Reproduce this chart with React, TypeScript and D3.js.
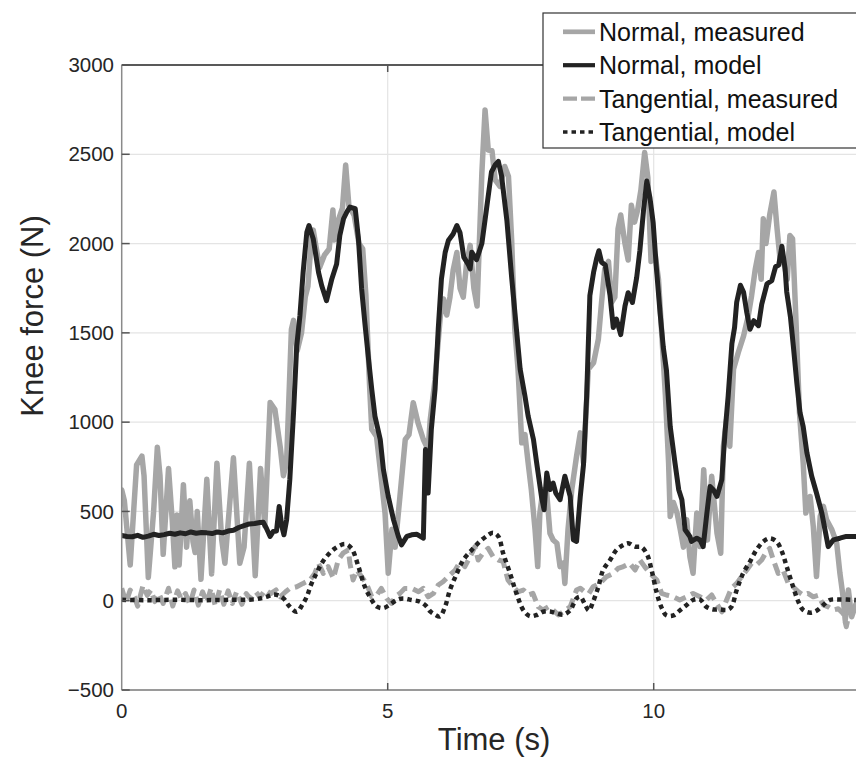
import React from 'react';
import * as d3 from 'd3';

const W = 856;
const H = 757;

const xTicks = [0, 5, 10];
const yTicks = [-500, 0, 500, 1000, 1500, 2000, 2500, 3000];
const xLabel = 'Time (s)';
const yLabel = 'Knee force (N)';
const seriesNames = ['Normal, measured', 'Normal, model', 'Tangential, measured', 'Tangential, model'];

// [time (s), force (N)]
const normalMeasured: [number, number][] = [
  [0.00, 620], [0.05, 560], [0.16, 200], [0.28, 760], [0.38, 810], [0.42, 700], [0.50, 130], [0.60, 500],
  [0.67, 860], [0.72, 700], [0.78, 260], [0.88, 740], [0.95, 450], [1.00, 190], [1.04, 480], [1.08, 200],
  [1.16, 650], [1.22, 300], [1.28, 560], [1.34, 330], [1.38, 270], [1.42, 500], [1.49, 120], [1.60, 680],
  [1.69, 150], [1.79, 770], [1.88, 340], [1.94, 210], [2.10, 800], [2.22, 210], [2.30, 300], [2.40, 770],
  [2.51, 140], [2.61, 740], [2.69, 420], [2.79, 1110], [2.88, 1070], [2.98, 860], [3.04, 700], [3.10, 780],
  [3.19, 1520], [3.23, 1570], [3.30, 1400], [3.38, 1500], [3.45, 1700], [3.50, 1760], [3.57, 2050], [3.60, 2076],
  [3.66, 1970], [3.72, 1866], [3.81, 1935], [3.90, 1970], [3.97, 2188], [4.00, 2020], [4.08, 2138], [4.15, 2200],
  [4.21, 2440], [4.27, 2213], [4.37, 2157], [4.46, 2000], [4.53, 1970], [4.59, 1710], [4.66, 1200], [4.70, 960],
  [4.79, 920], [4.88, 680], [4.95, 490], [5.01, 154], [5.08, 400], [5.14, 300], [5.23, 584], [5.33, 903],
  [5.40, 930], [5.48, 1109], [5.57, 996], [5.67, 903], [5.76, 847], [5.80, 1015], [5.89, 1240], [5.99, 1596],
  [6.05, 1690], [6.11, 1600], [6.17, 1700], [6.23, 1850], [6.30, 1950], [6.36, 1750], [6.42, 1700], [6.48, 1880],
  [6.55, 1990], [6.62, 1750], [6.68, 1650], [6.77, 2394], [6.83, 2748], [6.89, 2524], [6.96, 2520], [7.02, 2357],
  [7.11, 2320], [7.20, 2432], [7.27, 2376], [7.33, 2020], [7.39, 1517], [7.45, 1296], [7.52, 884], [7.58, 930],
  [7.64, 772], [7.70, 622], [7.77, 397], [7.82, 191], [7.86, 491], [7.92, 622], [7.99, 600], [8.05, 378],
  [8.11, 340], [8.18, 322], [8.24, 191], [8.30, 210], [8.33, 97], [8.39, 400], [8.46, 622], [8.55, 809],
  [8.62, 940], [8.68, 772], [8.77, 1296], [8.87, 1333], [8.96, 1465], [9.02, 1671], [9.08, 1858], [9.15, 1900],
  [9.21, 1671], [9.27, 1700], [9.33, 2083], [9.38, 2160], [9.46, 2000], [9.52, 1908], [9.58, 2214], [9.64, 2120],
  [9.70, 2190], [9.76, 2300], [9.83, 2510], [9.89, 2370], [9.95, 1900], [10.03, 1933], [10.09, 1800], [10.15, 1500],
  [10.22, 1150], [10.28, 772], [10.31, 472], [10.37, 550], [10.44, 490], [10.50, 397], [10.56, 300], [10.62, 453],
  [10.68, 247], [10.74, 154], [10.81, 491], [10.87, 303], [10.94, 734], [11.01, 340], [11.09, 697], [11.19, 378],
  [11.26, 266], [11.31, 865], [11.37, 1015], [11.43, 865], [11.50, 1296], [11.59, 1390], [11.69, 1483], [11.78, 1600],
  [11.84, 1708], [11.91, 1858], [11.97, 1950], [12.02, 1800], [12.06, 2139], [12.11, 2000], [12.18, 2160], [12.26, 2289],
  [12.32, 2080], [12.38, 1896], [12.44, 1900], [12.51, 1800], [12.56, 2045], [12.61, 2027], [12.67, 1600], [12.74, 1053],
  [12.81, 772], [12.86, 491], [12.94, 584], [13.00, 416], [13.06, 135], [13.13, 472], [13.19, 528], [13.25, 453],
  [13.35, 397], [13.44, 322], [13.50, 154], [13.56, 22], [13.60, -109], [13.66, 60], [13.72, -90], [13.80, -20],
];

const normalModel: [number, number][] = [
  [0.00, 365], [0.10, 360], [0.20, 358], [0.30, 366], [0.40, 355], [0.50, 362], [0.60, 372], [0.70, 365],
  [0.80, 370], [0.90, 378], [1.00, 372], [1.10, 380], [1.20, 375], [1.30, 385], [1.40, 378], [1.50, 382],
  [1.60, 380], [1.70, 376], [1.80, 385], [1.90, 380], [2.00, 390], [2.10, 395], [2.20, 410], [2.30, 420],
  [2.40, 430], [2.50, 432], [2.60, 438], [2.66, 440], [2.72, 406], [2.79, 360], [2.85, 388], [2.91, 390],
  [2.96, 528], [3.01, 416], [3.05, 369], [3.10, 453], [3.16, 678], [3.23, 1053], [3.29, 1427], [3.35, 1596],
  [3.41, 1839], [3.48, 2064], [3.52, 2101], [3.60, 2027], [3.70, 1839], [3.76, 1764], [3.85, 1680], [3.95, 1802],
  [4.04, 1886], [4.10, 2045], [4.17, 2139], [4.23, 2176], [4.29, 2204], [4.39, 2195], [4.45, 2027], [4.51, 1746],
  [4.57, 1558], [4.64, 1352], [4.70, 1184], [4.76, 1034], [4.86, 903], [4.92, 734], [5.01, 584], [5.11, 453],
  [5.20, 360], [5.26, 313], [5.36, 360], [5.45, 369], [5.55, 372], [5.67, 350], [5.69, 600], [5.71, 847],
  [5.76, 603], [5.82, 959], [5.89, 1184], [5.95, 1521], [6.01, 1802], [6.08, 1950], [6.14, 2017], [6.23, 2054],
  [6.30, 2101], [6.36, 2060], [6.43, 1924], [6.52, 1880], [6.55, 1858], [6.58, 1952], [6.67, 1910], [6.77, 2000],
  [6.86, 2200], [6.95, 2401], [7.02, 2440], [7.08, 2460], [7.14, 2380], [7.24, 2130], [7.33, 1810], [7.42, 1521],
  [7.49, 1296], [7.58, 1146], [7.64, 1034], [7.74, 903], [7.80, 772], [7.89, 584], [7.94, 509], [7.99, 715],
  [8.05, 622], [8.11, 659], [8.16, 603], [8.24, 566], [8.33, 697], [8.43, 584], [8.49, 341], [8.55, 332],
  [8.62, 584], [8.68, 760], [8.74, 1146], [8.80, 1708], [8.87, 1839], [8.93, 1920], [8.97, 1960], [9.02, 1896],
  [9.09, 1880], [9.18, 1708], [9.24, 1530], [9.30, 1577], [9.38, 1490], [9.46, 1650], [9.52, 1725], [9.60, 1670],
  [9.68, 1810], [9.74, 1960], [9.81, 2190], [9.87, 2350], [9.93, 2255], [9.99, 2117], [10.05, 1865], [10.12, 1612],
  [10.18, 1420], [10.24, 1290], [10.31, 976], [10.40, 772], [10.47, 622], [10.53, 566], [10.59, 397], [10.68, 360],
  [10.71, 332], [10.81, 350], [10.87, 340], [10.93, 303], [11.00, 491], [11.06, 640], [11.12, 622], [11.19, 584],
  [11.28, 678], [11.34, 940], [11.40, 1146], [11.47, 1440], [11.52, 1530], [11.56, 1671], [11.63, 1767], [11.69, 1727],
  [11.75, 1614], [11.81, 1520], [11.88, 1568], [11.97, 1540], [12.03, 1660], [12.13, 1775], [12.22, 1792], [12.29, 1870],
  [12.35, 1880], [12.41, 1985], [12.47, 1860], [12.50, 1730], [12.57, 1590], [12.63, 1409], [12.69, 1221], [12.75, 1053],
  [12.81, 975], [12.88, 828], [12.97, 697], [13.06, 603], [13.16, 491], [13.22, 397], [13.28, 303], [13.38, 341],
  [13.50, 350], [13.62, 360], [13.80, 360],
];

const tangentialMeasured: [number, number][] = [
  [0.00, 70], [0.08, -10], [0.16, 60], [0.24, 20], [0.30, -30], [0.40, 85], [0.48, 30], [0.55, 60],
  [0.62, -5], [0.70, 40], [0.78, -15], [0.88, 70], [0.96, -30], [1.05, 55], [1.12, 10], [1.20, 40],
  [1.28, -20], [1.36, 60], [1.44, -25], [1.52, 50], [1.60, -10], [1.68, 70], [1.76, -30], [1.84, 60],
  [1.92, -20], [2.00, 55], [2.08, -15], [2.16, 50], [2.26, -20], [2.34, 40], [2.42, 10], [2.52, 50],
  [2.60, 20], [2.70, 60], [2.80, 40], [2.90, 60], [2.98, 22], [3.08, 50], [3.16, 69], [3.29, 78],
  [3.41, 97], [3.54, 116], [3.63, 153], [3.70, 209], [3.79, 153], [3.88, 191], [3.98, 125], [4.07, 228],
  [4.16, 266], [4.26, 284], [4.29, 209], [4.35, 116], [4.42, 172], [4.51, 134], [4.60, 97], [4.70, 22],
  [4.79, 30], [4.88, 69], [4.98, 13], [5.07, -15], [5.14, 22], [5.23, 41], [5.32, 69], [5.45, 69],
  [5.58, 50], [5.67, 69], [5.76, 22], [5.86, 41], [5.95, 88], [6.04, 106], [6.17, 144], [6.27, 172],
  [6.36, 219], [6.45, 191], [6.55, 247], [6.64, 303], [6.70, 228], [6.79, 266], [6.89, 293], [6.98, 247],
  [7.08, 228], [7.17, 220], [7.26, 116], [7.36, 78], [7.45, 50], [7.55, 60], [7.64, 32], [7.73, 41],
  [7.83, -34], [7.92, -52], [8.02, -34], [8.11, -52], [8.21, -80], [8.30, -62], [8.43, -34], [8.55, 60],
  [8.62, 70], [8.70, 50], [8.78, 40], [8.86, 78], [8.99, 97], [9.11, 134], [9.24, 153], [9.33, 181],
  [9.43, 191], [9.55, 209], [9.65, 172], [9.74, 228], [9.83, 191], [9.93, 153], [10.06, 116], [10.15, 41],
  [10.24, 32], [10.37, 22], [10.49, 4], [10.62, 22], [10.74, 41], [10.87, 22], [10.99, 4], [11.09, 32],
  [11.18, -15], [11.28, -62], [11.37, 4], [11.46, 69], [11.56, 97], [11.65, 134], [11.75, 172], [11.84, 209],
  [11.93, 200], [12.03, 228], [12.12, 275], [12.18, 293], [12.25, 228], [12.34, 153], [12.43, 172], [12.53, 97],
  [12.62, 78], [12.72, 50], [12.81, 32], [12.90, 41], [13.00, 22], [13.09, 30], [13.19, -24], [13.28, -34],
  [13.37, -52], [13.47, -45], [13.56, -71], [13.62, -146], [13.68, -60], [13.80, -34],
];

const tangentialModel: [number, number][] = [
  [0.00, 5], [0.50, 3], [1.00, 5], [1.50, 3], [2.00, 5], [2.50, 8], [2.70, 20], [2.85, 35],
  [2.95, 30], [3.05, 10], [3.15, -30], [3.29, -62], [3.40, -20], [3.48, 23], [3.56, 90], [3.66, 153],
  [3.75, 205], [3.85, 247], [4.01, 293], [4.20, 317], [4.32, 293], [4.45, 191], [4.57, 79], [4.70, 4],
  [4.79, -32], [4.92, -41], [5.04, -22], [5.17, 4], [5.29, 13], [5.45, 4], [5.61, -6], [5.73, -32],
  [5.80, -60], [5.89, -78], [5.98, -88], [6.08, -32], [6.17, 60], [6.30, 153], [6.42, 228], [6.58, 284],
  [6.73, 331], [6.89, 368], [6.98, 381], [7.08, 360], [7.17, 266], [7.30, 153], [7.42, 41], [7.55, -53],
  [7.67, -86], [7.80, -80], [7.92, -62], [8.05, -60], [8.18, -71], [8.30, -78], [8.43, -53], [8.55, 13],
  [8.62, 22], [8.70, -15], [8.78, -55], [8.86, -6], [8.96, 78], [9.05, 172], [9.18, 228], [9.30, 284],
  [9.43, 312], [9.52, 322], [9.65, 303], [9.77, 300], [9.88, 256], [9.96, 172], [10.06, 41], [10.15, -40],
  [10.24, -82], [10.37, -82], [10.49, -55], [10.62, -24], [10.74, 4], [10.87, 7], [10.99, -34], [11.12, -49],
  [11.24, -48], [11.37, -52], [11.46, -35], [11.56, 60], [11.68, 153], [11.81, 219], [11.93, 284], [12.06, 331],
  [12.18, 349], [12.31, 331], [12.41, 275], [12.50, 191], [12.62, 78], [12.72, -6], [12.81, -52], [12.94, -67],
  [13.06, -56], [13.19, -24], [13.31, 4], [13.50, 7], [13.80, 4],
];

const FONT = '"Liberation Sans", Arial, Helvetica, sans-serif';

export default function App() {
  const left = 121.7;
  const right = 866.5;
  const top = 65;
  const bottom = 690;

  const x = d3.scaleLinear().domain([0, 14]).range([left, right]);
  const y = d3.scaleLinear().domain([-500, 3000]).range([bottom, top]);
  const linear = d3
    .line<[number, number]>()
    .x((d) => x(d[0]))
    .y((d) => y(d[1]));
  const smooth = d3
    .line<[number, number]>()
    .x((d) => x(d[0]))
    .y((d) => y(d[1]))
    .curve(d3.curveCatmullRom.alpha(0.5));

  const series = [
    { name: seriesNames[0], data: normalMeasured, color: '#a6a6a6', width: 5.5, dash: undefined as string | undefined, cap: 'round', gen: linear, legendDash: undefined as string | undefined },
    { name: seriesNames[1], data: normalModel, color: '#222222', width: 5, dash: undefined, cap: 'round', gen: linear, legendDash: undefined },
    { name: seriesNames[2], data: tangentialMeasured, color: '#a6a6a6', width: 5, dash: '12 6', cap: 'butt', gen: linear, legendDash: '14 4' },
    { name: seriesNames[3], data: tangentialModel, color: '#222222', width: 4.5, dash: '4.5 4', cap: 'butt', gen: smooth, legendDash: '4.5 4' },
  ];

  const legendX = 543;
  const legendTop = 13;
  const legendBottom = 148;
  const rowY0 = 31.8;
  const rowStep = 33.4;

  return (
    <svg
      width={W}
      height={H}
      viewBox={`0 0 ${W} ${H}`}
      style={{ position: 'absolute', left: 0, top: 0, display: 'block', background: '#fff' }}
      fontFamily={FONT}
    >
      <defs>
        <clipPath id="plotClip">
          <rect x={left} y={top} width={right - left} height={bottom - top} />
        </clipPath>
      </defs>
      <rect x={0} y={0} width={W} height={H} fill="#fff" />

      {/* grid */}
      {yTicks.map((t) => (
        <line key={`gy${t}`} x1={left} x2={right} y1={y(t)} y2={y(t)} stroke="#e4e4e4" strokeWidth={1.2} />
      ))}
      {xTicks.filter((t) => t > 0).map((t) => (
        <line key={`gx${t}`} x1={x(t)} x2={x(t)} y1={top} y2={bottom} stroke="#e4e4e4" strokeWidth={1.2} />
      ))}

      {/* data */}
      <g clipPath="url(#plotClip)">
        {series.map((s) => (
          <path
            key={s.name}
            d={s.gen(s.data) || ''}
            fill="none"
            stroke={s.color}
            strokeWidth={s.width}
            strokeDasharray={s.dash}
            strokeLinejoin="round"
            strokeLinecap={s.cap as any}
          />
        ))}
      </g>

      {/* axes */}
      <line x1={left} x2={right} y1={top} y2={top} stroke="#262626" strokeWidth={1.3} />
      <line x1={left} x2={left} y1={top} y2={bottom} stroke="#8a8a8a" strokeWidth={1.5} />
      <line x1={left} x2={right} y1={bottom} y2={bottom} stroke="#9a9a9a" strokeWidth={2} />

      {yTicks.map((t) => (
        <g key={`yt${t}`}>
          <line x1={left} x2={left + 8} y1={y(t)} y2={y(t)} stroke="#555" strokeWidth={1.5} />
          <text x={114} y={y(t)} dy="0.35em" textAnchor="end" fontSize={20.5} fill="#262626">
            {t < 0 ? `\u2212${Math.abs(t)}` : `${t}`}
          </text>
        </g>
      ))}
      {xTicks.map((t) => (
        <g key={`xt${t}`}>
          {t > 0 && <line x1={x(t)} x2={x(t)} y1={bottom} y2={bottom - 7} stroke="#555" strokeWidth={1.5} />}
          {t > 0 && <line x1={x(t)} x2={x(t)} y1={top} y2={top + 7} stroke="#555" strokeWidth={1.5} />}
          <text x={x(t)} y={718} textAnchor="middle" fontSize={20.5} fill="#262626">
            {t}
          </text>
        </g>
      ))}

      <text x={(left + right) / 2} y={750} textAnchor="middle" fontSize={31} fill="#262626">
        {xLabel}
      </text>
      <text transform={`translate(43, 316) rotate(-90)`} textAnchor="middle" fontSize={31} fill="#262626">
        {yLabel}
      </text>

      {/* legend */}
      <rect
        x={legendX}
        y={legendTop}
        width={W + 20 - legendX}
        height={legendBottom - legendTop}
        fill="#fff"
        stroke="#333"
        strokeWidth={1.2}
      />
      {series.map((s, i) => {
        const ly = rowY0 + i * rowStep;
        return (
          <g key={`lg${i}`}>
            <line
              x1={563}
              x2={595}
              y1={ly}
              y2={ly}
              stroke={s.color}
              strokeWidth={s.width - 0.8}
              strokeDasharray={s.legendDash}
            />
            <text x={599} y={ly} dy="0.36em" fontSize={25} fill="#111">
              {s.name}
            </text>
          </g>
        );
      })}
    </svg>
  );
}
